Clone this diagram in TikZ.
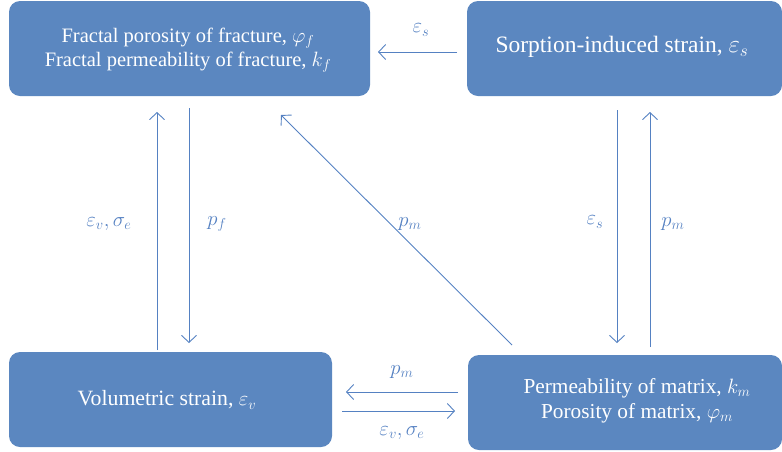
\documentclass[tikz,border=0pt]{standalone}
\usepackage{fontspec}
\setmainfont{Liberation Serif}
\usetikzlibrary{arrows.meta}
\definecolor{boxfill}{HTML}{5B87C0}
\definecolor{arr}{HTML}{5581C2}
\begin{document}
\begin{tikzpicture}[x=1pt,y=-1pt,
  box/.style={fill=boxfill,rounded corners=11pt,draw=none},
  btext/.style={text=white,font=\fontsize{20.5}{24}\selectfont,align=center},
  conn/.style={draw=arr,line width=0.9pt,-{Straight Barb[length=7pt,width=15pt]}},
  lab/.style={text=arr,font=\fontsize{22}{24}\selectfont}]
\useasboundingbox (0,0) rectangle (782,451);
% boxes
\fill[box] (9,1) rectangle (370,96);
\fill[box] (467,1) rectangle (782,96);
\fill[box] (9,352) rectangle (332,447);
\fill[box] (468,355) rectangle (782,450);
\node[btext] (frac) at (188,50) {Fractal porosity of fracture, $\varphi_f$\\Fractal permeability of fracture, $k_f$};
\node[btext,font=\fontsize{23.5}{26}\selectfont] (sorp) at (622,47) {Sorption-induced strain, $\varepsilon_s$};
\node[btext,font=\fontsize{21.8}{25}\selectfont] (vol) at (167,400) {Volumetric strain, $\varepsilon_v$};
\node[btext,font=\fontsize{21.3}{25}\selectfont] (mat) at (637,401) {Permeability of matrix, $k_m$\\Porosity of matrix, $\varphi_m$};
% connector endpoints
\coordinate (a1) at (457,52); \coordinate (a2) at (378,52);
\coordinate (b1) at (157,350); \coordinate (b2) at (157,112);
\coordinate (c1) at (189,108); \coordinate (c2) at (189,343);
\coordinate (d1) at (512,345); \coordinate (d2) at (281,115);
\coordinate (e1) at (617,110); \coordinate (e2) at (617,343);
\coordinate (f1) at (650,347); \coordinate (f2) at (650,112);
\coordinate (g1) at (458,392); \coordinate (g2) at (346,392);
\coordinate (h1) at (342,411); \coordinate (h2) at (455,411);
\draw[conn] (a1) -- (a2);
\draw[conn] (b1) -- (b2);
\draw[conn] (c1) -- (c2);
\draw[conn] (d1) -- (d2);
\draw[conn] (e1) -- (e2);
\draw[conn] (f1) -- (f2);
\draw[conn] (g1) -- (g2);
\draw[conn] (h1) -- (h2);
% labels
\node[lab] (la) at (421,30) {$\varepsilon_s$};
\node[lab] (lb) at (109,224) {$\varepsilon_v,\sigma_e$};
\node[lab] (lc) at (217,224) {$p_f$};
\node[lab] (ld) at (410,224) {$p_m$};
\node[lab] (le) at (595,222) {$\varepsilon_s$};
\node[lab] (lf) at (673,224) {$p_m$};
\node[lab] (lg) at (402,372) {$p_m$};
\node[lab] (lh) at (402,433) {$\varepsilon_v,\sigma_e$};
\end{tikzpicture}
\end{document}
